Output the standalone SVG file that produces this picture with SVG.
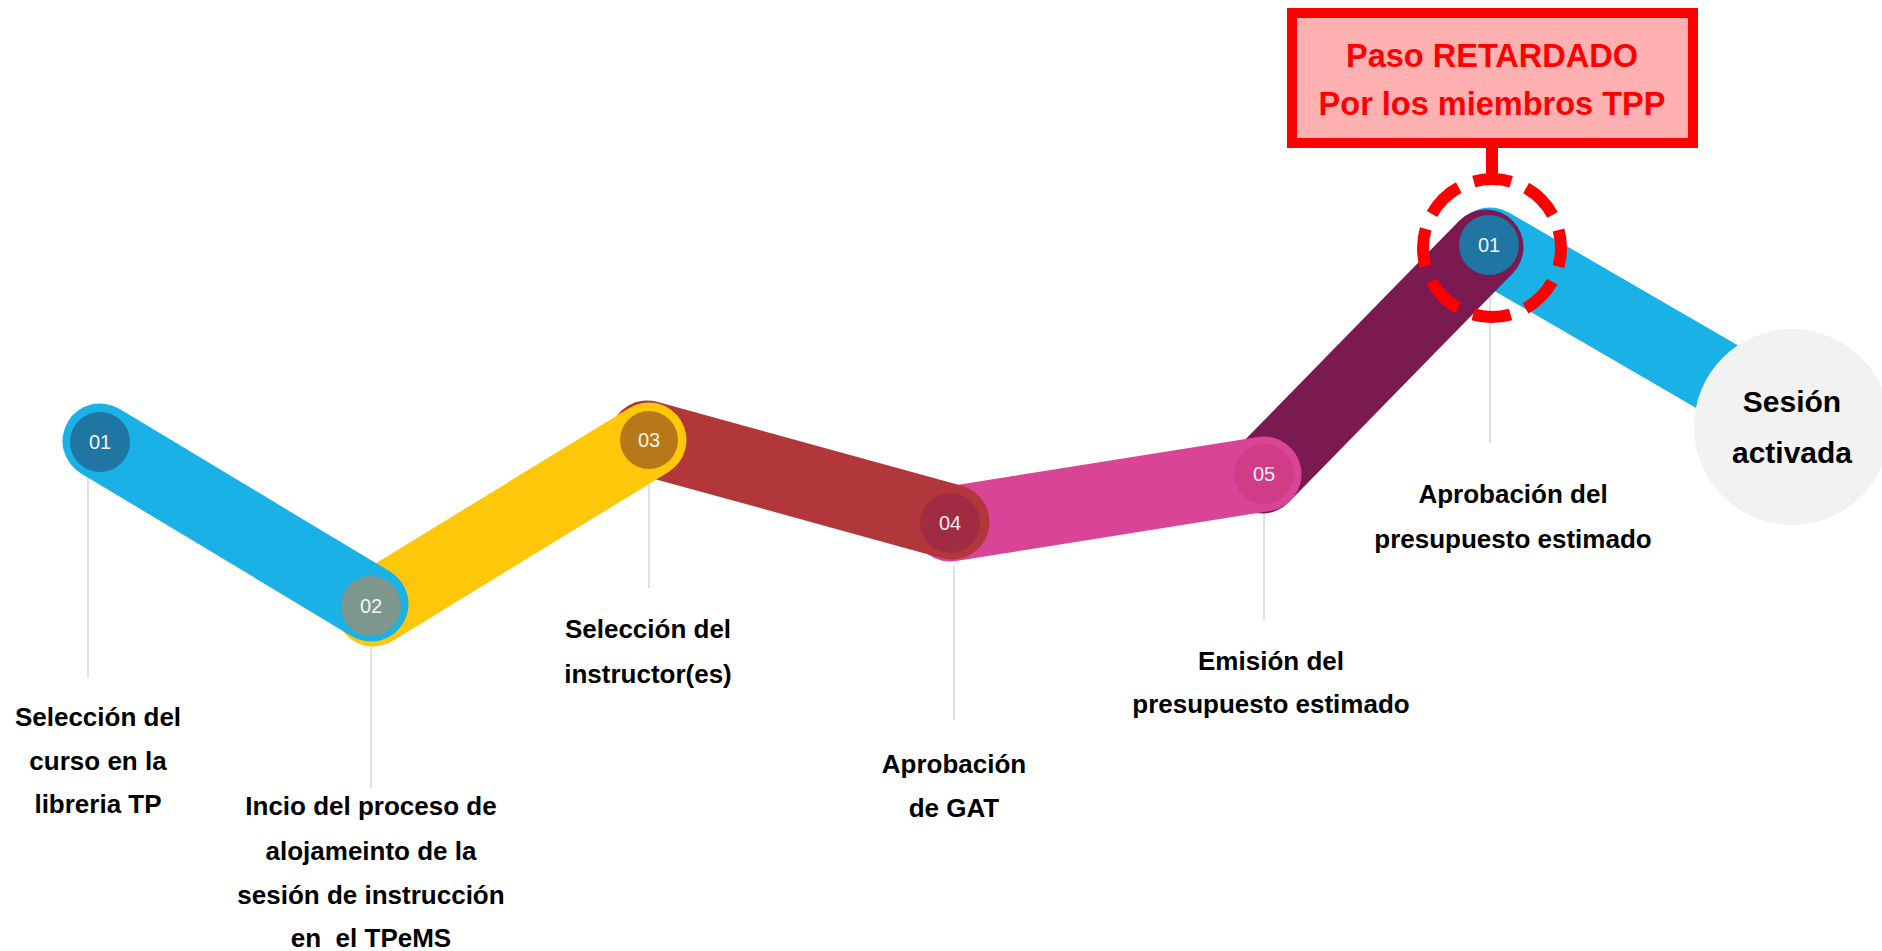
<svg xmlns="http://www.w3.org/2000/svg" width="1882" height="951" viewBox="0 0 1882 951">
<style>
.band{fill:none;stroke-width:75;stroke-linecap:round}
.lead{stroke:#D6D6D6;stroke-width:1.5;fill:none}
.num{font-family:"Liberation Sans",Arial,sans-serif;font-size:20px;fill:#FFFFFF;text-anchor:middle;opacity:0.92}
.lbl{font-family:"Liberation Sans",Arial,sans-serif;font-size:26px;font-weight:bold;fill:#000000;text-anchor:middle}
.big{font-size:30px}
.warn{font-family:"Liberation Sans",Arial,sans-serif;font-size:32.5px;font-weight:bold;fill:#FF0000;text-anchor:middle}
</style>
<rect width="1882" height="951" fill="#FFFFFF"/>
<g id="leaders">
<line class="lead" x1="88" y1="441" x2="88" y2="678"/>
<line class="lead" x1="371" y1="606" x2="371" y2="788"/>
<line class="lead" x1="649" y1="440" x2="649" y2="588"/>
<line class="lead" x1="954" y1="566" x2="954" y2="720"/>
<line class="lead" x1="1264" y1="474" x2="1264" y2="620"/>
<line class="lead" x1="1490" y1="245" x2="1490" y2="443"/>
</g>
<g id="connectors">
<line class="band" stroke="#19B1E6" x1="1490" y1="245" x2="1740" y2="390"/>
<line class="band" stroke="#7A1A50" x1="1262" y1="476" x2="1486" y2="247"/>
<line class="band" stroke="#D94496" x1="950" y1="524" x2="1264" y2="474"/>
<line class="band" stroke="#B2373A" x1="647" y1="438" x2="952" y2="522"/>
<line class="band" stroke="#FEC70A" x1="373" y1="609" x2="649" y2="440"/>
<line class="band" stroke="#19B1E6" x1="100" y1="441" x2="371" y2="604"/>
</g>
<g id="step1">
<circle cx="100" cy="442" r="30" fill="#1F76A3"/>
<text class="num" x="100" y="449">01</text>
<text class="lbl" x="98" y="726">Selección del</text>
<text class="lbl" x="98" y="770">curso en la</text>
<text class="lbl" x="98" y="813">libreria TP</text>
</g>
<g id="step2">
<circle cx="371" cy="606" r="30" fill="#7D968E"/>
<text class="num" x="371" y="613">02</text>
<text class="lbl" x="371" y="815">Incio del proceso de</text>
<text class="lbl" x="371" y="860">alojameinto de la</text>
<text class="lbl" x="371" y="904">sesión de instrucción</text>
<text class="lbl" x="371" y="947" style="white-space:pre">en  el TPeMS</text>
</g>
<g id="step3">
<circle cx="649" cy="440" r="29" fill="#B67818"/>
<text class="num" x="649" y="447">03</text>
<text class="lbl" x="648" y="638">Selección del</text>
<text class="lbl" x="648" y="683">instructor(es)</text>
</g>
<g id="step4">
<circle cx="950" cy="523" r="30" fill="#A12B43"/>
<text class="num" x="950" y="530">04</text>
<text class="lbl" x="954" y="773">Aprobación</text>
<text class="lbl" x="954" y="817">de GAT</text>
</g>
<g id="step5">
<circle cx="1264" cy="474" r="30" fill="#D03D86"/>
<text class="num" x="1264" y="481">05</text>
<text class="lbl" x="1271" y="670">Emisión del</text>
<text class="lbl" x="1271" y="713">presupuesto estimado</text>
</g>
<g id="step6">
<circle cx="1489" cy="245" r="30" fill="#1F76A3"/>
<text class="num" x="1489" y="252">01</text>
<text class="lbl" x="1513" y="503">Aprobación del</text>
<text class="lbl" x="1513" y="548">presupuesto estimado</text>
</g>
<g id="end">
<circle cx="1792" cy="427" r="98" fill="#F2F2F2"/>
<text class="lbl big" x="1792" y="412">Sesión</text>
<text class="lbl big" x="1792" y="463">activada</text>
</g>
<g id="callout">
<rect x="1292" y="13" width="401" height="130" fill="#FFB0B0" stroke="#FF0000" stroke-width="10"/>
<text class="warn" x="1492" y="67">Paso RETARDADO</text>
<text class="warn" x="1492" y="115">Por los miembros TPP</text>
<line x1="1492" y1="146" x2="1492" y2="178" stroke="#FF0000" stroke-width="12"/>
<circle cx="1492" cy="248" r="69" fill="none" stroke="#FF0000" stroke-width="12" stroke-dasharray="38 16.19" stroke-dashoffset="19"/>
</g>
</svg>
